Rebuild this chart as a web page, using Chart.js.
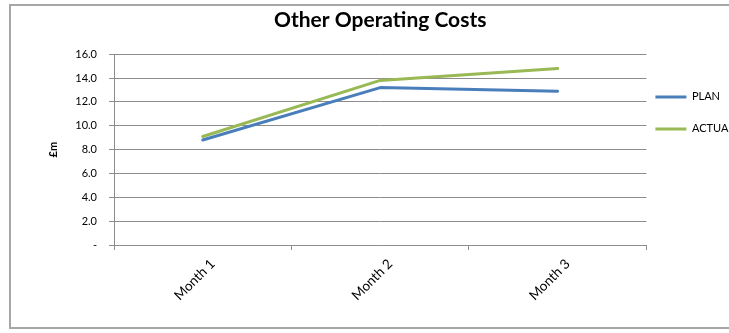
<!DOCTYPE html>
<html>
<head>
<meta charset="utf-8">
<script src="https://cdn.jsdelivr.net/npm/chart.js@4/dist/chart.umd.min.js"></script>
<style>
  html, body { margin: 0; padding: 0; background: #fff; }
  canvas { display: block; }
</style>
</head>
<body>
<canvas id="costChart" width="729" height="333"></canvas>
<script>
const months = ['Month 1', 'Month 2', 'Month 3'];
const plan = [8.8, 13.2, 12.9];
const actual = [9.1, 13.8, 14.8];
const yTicks = [0, 2, 4, 6, 8, 10, 12, 14, 16];

const FONT = 'Lato, "Open Sans", sans-serif';
const GRID = '#8c8c8c';

// grey frame round the whole chart
const frame = {
    id: 'frame',
    beforeDraw(chart) {
        const ctx = chart.ctx;
        ctx.save();
        ctx.fillStyle = '#fff';
        ctx.fillRect(0, 0, chart.width, chart.height);
        ctx.strokeStyle = '#a6a6a6';
        ctx.lineWidth = 2;
        ctx.strokeRect(10, 5, 740, 323);
        ctx.restore();
    }
};

// pull the legend a bit closer to the plot
const legendShift = {
    id: 'legendShift',
    afterLayout(chart) {
        if (chart.legend) {
            chart.legend.left -= 12;
            chart.legend.right -= 12;
        }
    }
};

new Chart(document.getElementById('costChart'), {
    type: 'line',
    data: {
        labels: months,
        datasets: [
            {
                label: 'PLAN',
                data: plan,
                borderColor: '#4a7ebb',
                backgroundColor: '#4a7ebb',
                borderWidth: 3,
                pointRadius: 0,
                borderJoinStyle: 'round',
                borderCapStyle: 'round'
            },
            {
                label: 'ACTUAL',
                data: actual,
                borderColor: '#98b954',
                backgroundColor: '#98b954',
                borderWidth: 3,
                pointRadius: 0,
                borderJoinStyle: 'round',
                borderCapStyle: 'round'
            }
        ]
    },
    options: {
        responsive: false,
        animation: false,
        layout: { padding: { left: 46, right: -27, top: 0, bottom: 0 } },
        plugins: {
            title: {
                display: true,
                text: 'Other Operating Costs',
                color: '#000',
                fullSize: false,
                font: { family: FONT, size: 21, weight: 'bold' },
                padding: { top: 8, bottom: 21 }
            },
            legend: {
                position: 'right',
                align: 'start',
                fullSize: false,
                title: { display: true, text: '', font: { size: 11 }, padding: { top: 3, bottom: 0 } },
                labels: {
                    usePointStyle: true,
                    pointStyle: 'line',
                    pointStyleWidth: 31,
                    boxHeight: 3,
                    padding: 21,
                    color: '#000',
                    font: { family: FONT, size: 11 }
                }
            },
            tooltip: { enabled: false }
        },
        scales: {
            y: {
                min: 0,
                max: 16,
                afterBuildTicks(scale) {
                    scale.ticks = yTicks.map(v => ({ value: v }));
                },
                afterFit(scale) { scale.width = 114 - 46; },
                ticks: {
                    padding: 12,
                    color: '#000',
                    font: { family: FONT, size: 11 },
                    callback: v => v === 0 ? '-' : v.toFixed(1)
                },
                grid: { color: GRID, tickLength: 5 },
                border: { color: GRID },
                title: {
                    display: true,
                    text: '£m',
                    color: '#000',
                    font: { family: FONT, size: 11, weight: 'bold' },
                    padding: { top: 1, bottom: 0 }
                }
            },
            x: {
                offset: true,
                afterFit(scale) { scale.height = 88; },
                grid: { drawOnChartArea: false, offset: true, tickLength: 5, color: GRID },
                border: { color: GRID },
                ticks: {
                    minRotation: 45,
                    maxRotation: 45,
                    padding: 6,
                    labelOffset: 10,
                    color: '#000',
                    font: { family: FONT, size: 13.5 }
                }
            }
        }
    },
    plugins: [frame, legendShift]
});
</script>
</body>
</html>
